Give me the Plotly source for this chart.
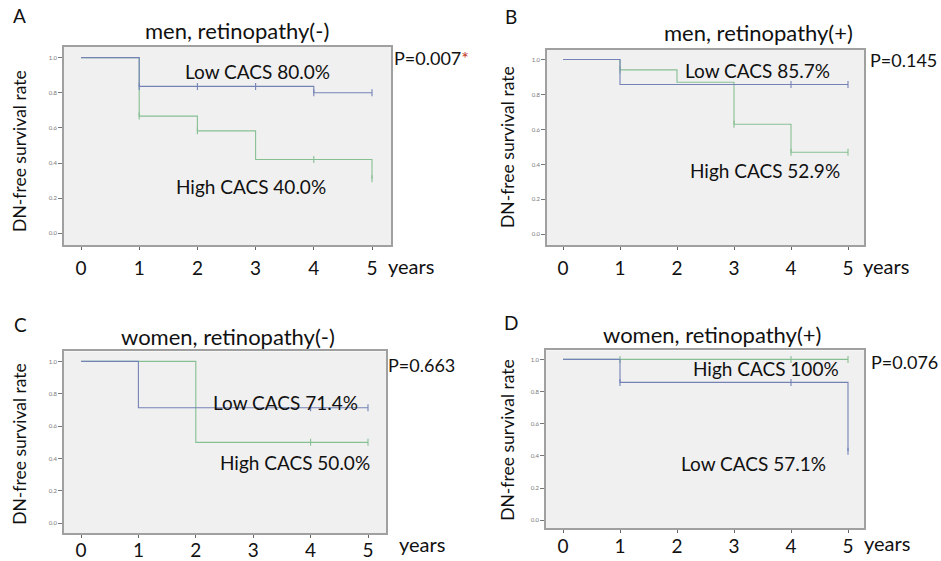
import plotly.graph_objects as go

W, H = 941, 561
FONT = "Lato"

years = [0, 1, 2, 3, 4, 5]
year_labels = ["0", "1", "2", "3", "4", "5"]
y_ticks = [0.0, 0.2, 0.4, 0.6, 0.8, 1.0]
y_tick_labels = ["0.0", "0.2", "0.4", "0.6", "0.8", "1.0"]

# Kaplan-Meier step data (time, survival) per panel and group
A_low_t = [0, 1, 4, 5];       A_low_s = [1.0, 0.836, 0.80, 0.80]
A_low_cens_t = [1, 2, 3, 4, 5]; A_low_cens_s = [0.836, 0.836, 0.836, 0.80, 0.80]
A_high_t = [0, 1, 2, 3, 5];   A_high_s = [1.0, 0.667, 0.583, 0.42, 0.31]
A_high_cens_t = [1, 2, 4, 5]; A_high_cens_s = [0.667, 0.583, 0.42, 0.31]

B_low_t = [0, 1, 5];          B_low_s = [1.0, 0.857, 0.857]
B_low_cens_t = [4, 5];        B_low_cens_s = [0.857, 0.857]
B_high_t = [0, 1, 2, 3, 4, 5]; B_high_s = [1.0, 0.941, 0.87, 0.63, 0.47, 0.47]
B_high_cens_t = [1, 3, 4, 5]; B_high_cens_s = [0.941, 0.63, 0.47, 0.47]

C_low_t = [0, 1, 5];          C_low_s = [1.0, 0.714, 0.714]
C_low_cens_t = [4, 5];        C_low_cens_s = [0.714, 0.714]
C_high_t = [0, 2, 5];         C_high_s = [1.0, 0.50, 0.50]
C_high_cens_t = [4, 5];       C_high_cens_s = [0.50, 0.50]

D_low_t = [0, 1, 5];          D_low_s = [1.0, 0.857, 0.429]
D_low_cens_t = [1, 4, 5];     D_low_cens_s = [0.857, 0.857, 0.429]
D_high_t = [0, 5];            D_high_s = [1.0, 1.0]
D_high_cens_t = [1, 4, 5];    D_high_cens_s = [1.0, 1.0, 1.0]

GREEN = "#86bf92"
BLUE = "#7582b6"

# pixel geometry of each panel box: (left, right, top, bottom), x0/x5 px, y1/y0 px, tick label standoff
panels = {
    "A": dict(box=(64, 391, 47, 247), xpx=(81, 372), ypx=(58, 235), so=2,
              low=(A_low_t, A_low_s, A_low_cens_t, A_low_cens_s),
              high=(A_high_t, A_high_s, A_high_cens_t, A_high_cens_s)),
    "B": dict(box=(547, 864, 50, 247), xpx=(563, 848), ypx=(60, 236), so=2,
              low=(B_low_t, B_low_s, B_low_cens_t, B_low_cens_s),
              high=(B_high_t, B_high_s, B_high_cens_t, B_high_cens_s)),
    "C": dict(box=(64, 386, 354, 537), xpx=(81, 368), ypx=(364, 527), so=-4,
              low=(C_low_t, C_low_s, C_low_cens_t, C_low_cens_s),
              high=(C_high_t, C_high_s, C_high_cens_t, C_high_cens_s)),
    "D": dict(box=(546, 864, 353, 532), xpx=(563, 848), ypx=(362, 524), so=-3,
              low=(D_low_t, D_low_s, D_low_cens_t, D_low_cens_s),
              high=(D_high_t, D_high_s, D_high_cens_t, D_high_cens_s)),
}

fig = go.Figure()
layout = {}
for i, (name, p) in enumerate(panels.items()):
    n = "" if i == 0 else str(i + 1)
    xa, ya = "x" + n, "y" + n
    l, r, t, b = p["box"]
    x0p, x5p = p["xpx"]
    y1p, y0p = p["ypx"]
    sx = (x5p - x0p) / 5.0
    sy = (y0p - y1p) / 1.0
    xr = [-(x0p - l) / sx, 5 + (r - x5p) / sx]
    yr = [-(b - y0p) / sy, 1 + (y1p - t) / sy]
    for grp, col in (("high", GREEN), ("low", BLUE)):
        tt, ss, ct, cs = p[grp]
        fig.add_trace(go.Scatter(x=tt, y=ss, mode="lines", line=dict(color=col, width=1.1, shape="hv"),
                                 xaxis=xa, yaxis=ya, showlegend=False, hoverinfo="skip"))
        fig.add_trace(go.Scatter(x=ct, y=cs, mode="markers",
                                 marker=dict(symbol="line-ns", size=5, line=dict(color=col, width=1.1)),
                                 xaxis=xa, yaxis=ya, showlegend=False, hoverinfo="skip"))
    layout["xaxis" + n] = dict(domain=[l / W, r / W], range=xr, anchor=ya,
                               tickvals=years, ticktext=year_labels, ticks="outside", ticklen=3,
                               tickcolor="#666", tickfont=dict(family=FONT, size=19, color="#111"),
                               ticklabelstandoff=p["so"], showgrid=False, zeroline=False,
                               showline=True, linecolor="#a0a0a0", linewidth=1.5, mirror=True)
    layout["yaxis" + n] = dict(domain=[1 - b / H, 1 - t / H], range=yr, anchor=xa,
                               tickvals=y_ticks, ticktext=y_tick_labels, ticks="outside", ticklen=4,
                               tickcolor="#777", tickfont=dict(family=FONT, size=6, color="#777"),
                               showgrid=False, zeroline=False,
                               showline=True, linecolor="#a0a0a0", linewidth=1.5, mirror=True)

fig.update_layout(**layout)

ann = []
def txt(x, y, s, size=19, color="#111", angle=0, xanchor="center"):
    ann.append(dict(x=x / W, y=1 - y / H, xref="paper", yref="paper", text=s, showarrow=False,
                    font=dict(family=FONT, size=size, color=color), textangle=angle,
                    xanchor=xanchor, yanchor="middle"))

# panel letters
txt(19, 16, "A", 19); txt(511, 17, "B", 19); txt(20, 327, "C", 19); txt(511, 325, "D", 19)
# titles
txt(237, 31, "men, retinopathy(-)", 22); txt(758, 33, "men, retinopathy(+)", 22)
txt(228, 339, "women, retinopathy(-)", 22); txt(712, 337, "women, retinopathy(+)", 22)
# y axis titles
for (x, y) in ((20, 152), (508, 148), (20, 447), (508, 443)):
    txt(x, y, "DN-free survival rate", 17.5, angle=-90)
# years
txt(411, 268, "years", 20); txt(886, 268, "years", 20); txt(422, 548, "years", 20); txt(887, 547, "years", 20)
# P values
txt(392, 58, "P=0.007<span style='color:#c0392b'>*</span>", 18, xanchor="left")
txt(868, 60, "P=0.145", 18, xanchor="left")
txt(386, 368, "P=0.663", 18, xanchor="left")
txt(869, 365, "P=0.076", 18, xanchor="left")
# group labels
txt(257, 72, "Low CACS 80.0%", 19); txt(251, 188, "High CACS 40.0%", 19)
txt(757, 71, "Low CACS 85.7%", 19); txt(765, 172, "High CACS 52.9%", 19)
txt(285, 405, "Low CACS 71.4%", 19); txt(295, 466, "High CACS 50.0%", 19)
txt(766, 371, "High CACS 100%", 19); txt(753, 467, "Low CACS 57.1%", 19)

fig.update_layout(width=W, height=H, margin=dict(l=0, r=0, t=0, b=0),
                  paper_bgcolor="white", plot_bgcolor="#f0f0f0", annotations=ann)
post = ("var d=document.documentElement, b=document.body;"
        "d.style.margin='0';d.style.padding='0';d.style.overflow='hidden';"
        "b.style.margin='0';b.style.padding='0';b.style.overflow='hidden';")
fig.write_html("out.html", config={"displayModeBar": False}, post_script=post)
